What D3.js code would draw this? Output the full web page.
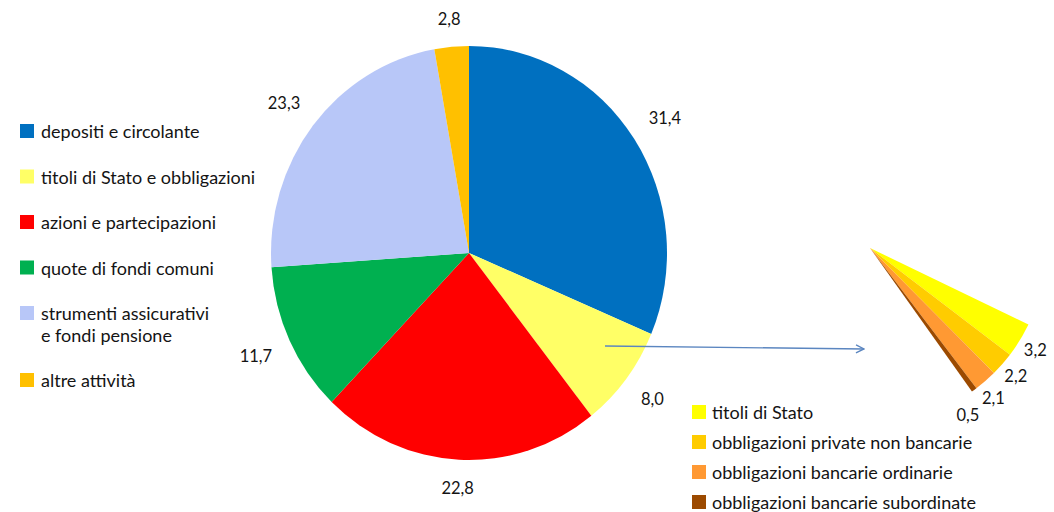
<!DOCTYPE html>
<html lang="it">
<head>
  <meta charset="UTF-8">
  <title>Composizione delle attività finanziarie</title>
  <script src="https://d3js.org/d3.v7.min.js"></script>
  <style>
    body { margin: 0; background: #fff; }
    svg text { font-family: Lato, "Open Sans", sans-serif; fill: #141414; }
  </style>
</head>
<body>
  <svg id="chart" width="1054" height="512"></svg>

  <script>
    // main pie
    const categories = ["depositi e circolante", "titoli di Stato e obbligazioni", "azioni e partecipazioni",
                        "quote di fondi comuni", "strumenti assicurativi\ne fondi pensione", "altre attività"];
    const values = [31.4, 8.0, 22.8, 11.7, 23.3, 2.8];
    const colors = ["#0070C0", "#FFFF66", "#FF0000", "#00B050", "#B8C7F8", "#FFC000"];

    // breakdown of "titoli di Stato e obbligazioni"
    const subCategories = ["titoli di Stato", "obbligazioni private non bancarie",
                           "obbligazioni bancarie ordinarie", "obbligazioni bancarie subordinate"];
    const subValues = [3.2, 2.2, 2.1, 0.5];
    const subColors = ["#FFFF00", "#FFCC00", "#FF9933", "#9C4A00"];

    const fmt = d3.formatLocale({ decimal: ",", thousands: ".", grouping: [3], currency: ["", "€"] }).format(".1f");
    const svg = d3.select("#chart");
    const deg = Math.PI / 180;
    const numSize = 16.5, legSize = 18;

    // ---- main pie (slightly taller than wide, as in the original) ----
    const cx = 469, cy = 253, rx = 198, ry = 207;
    const pie = d3.pie().sort(null).value(d => d);
    const arcs = pie(values);
    const arc = d3.arc().innerRadius(0).outerRadius(ry);

    svg.append("g")
      .attr("transform", `translate(${cx},${cy}) scale(${rx / ry},1)`)
      .selectAll("path")
      .data(arcs)
      .join("path")
      .attr("d", arc)
      .attr("fill", (d, i) => colors[i]);

    // value labels: box kept a fixed gap outside the pie edge
    const gap = 19, labelH = 16;
    const mid = d => (d.startAngle + d.endAngle) / 2;
    svg.append("g").selectAll("text")
      .data(arcs)
      .join("text")
      .attr("text-anchor", "middle")
      .attr("dominant-baseline", "central")
      .attr("font-size", numSize)
      .text(d => fmt(d.data))
      .each(function(d) {
        const a = mid(d), s = Math.sin(a), c = Math.cos(a);
        const w = this.getComputedTextLength();
        const dist = gap + Math.abs(s) * w / 2 + Math.abs(c) * labelH / 2;
        d3.select(this)
          .attr("x", cx + rx * s + dist * s)
          .attr("y", cy - ry * c - dist * c);
      });

    // ---- legend left ----
    // rows are evenly spaced, a wrapped label pushes the following rows down by one line
    const lineH = 21.5, rowH = 45.5;
    let extra = 0;
    const legPos = categories.map((c, i) => {
      const y = 131 + i * rowH + extra * lineH;
      extra += c.split("\n").length - 1;
      return y;
    });
    const leg = svg.append("g").selectAll("g")
      .data(categories)
      .join("g")
      .attr("transform", (d, i) => `translate(20,${legPos[i]})`);
    leg.append("rect")
      .attr("x", 0).attr("y", -7).attr("width", 14).attr("height", 14)
      .attr("fill", (d, i) => colors[i]);
    leg.append("text")
      .attr("font-size", legSize)
      .selectAll("tspan")
      .data(d => d.split("\n"))
      .join("tspan")
      .attr("x", 21)
      .attr("y", (d, i) => i * lineH)
      .attr("dominant-baseline", "central")
      .text(d => d);

    // ---- arrow ----
    svg.append("defs").append("marker")
      .attr("id", "head").attr("viewBox", "0 0 10 10")
      .attr("refX", 9).attr("refY", 5)
      .attr("markerWidth", 10).attr("markerHeight", 10)
      .attr("markerUnits", "userSpaceOnUse")
      .attr("orient", "auto")
      .append("path").attr("d", "M1,1 L9,5 L1,9")
      .attr("fill", "none").attr("stroke", "#5B86C0").attr("stroke-width", 1.4);
    svg.append("line")
      .attr("x1", 605).attr("y1", 346).attr("x2", 864).attr("y2", 349)
      .attr("stroke", "#5B86C0").attr("stroke-width", 1.4)
      .attr("marker-end", "url(#head)");

    // ---- breakdown fragment ----
    const sx = 870, sy = 248, sr = 176;
    const subStart = 115.8 * deg;
    const subPie = d3.pie().sort(null).value(d => d)
      .startAngle(subStart)
      .endAngle(subStart + 2 * Math.PI * d3.sum(subValues) / 100);
    const subArcs = subPie(subValues);
    const subArc = d3.arc().innerRadius(0).outerRadius(sr);

    svg.append("g")
      .attr("transform", `translate(${sx},${sy})`)
      .selectAll("path")
      .data(subArcs)
      .join("path")
      .attr("d", subArc)
      .attr("fill", (d, i) => subColors[i]);

    // labels at mid angle, nudged further round the arc if they would collide
    const lr = 194, minGap = 31;
    const subPos = [];
    subArcs.forEach((d, i) => {
      let a = mid(d);
      let p = [lr * Math.sin(a), -lr * Math.cos(a)];
      while (i > 0 && Math.hypot(p[0] - subPos[i - 1][0], p[1] - subPos[i - 1][1]) < minGap) {
        a += 0.5 * deg;
        p = [lr * Math.sin(a), -lr * Math.cos(a)];
      }
      subPos.push(p);
    });
    svg.append("g")
      .attr("transform", `translate(${sx},${sy})`)
      .selectAll("text")
      .data(subArcs)
      .join("text")
      .attr("x", (d, i) => subPos[i][0])
      .attr("y", (d, i) => subPos[i][1])
      .attr("text-anchor", "middle")
      .attr("dominant-baseline", "central")
      .attr("font-size", numSize)
      .text(d => fmt(d.data));

    // ---- legend bottom right ----
    const subY = d3.scalePoint().domain(d3.range(subCategories.length)).range([412, 502]);
    const subLeg = svg.append("g").selectAll("g")
      .data(subCategories)
      .join("g")
      .attr("transform", (d, i) => `translate(692,${subY(i)})`);
    subLeg.append("rect")
      .attr("x", 0).attr("y", -7).attr("width", 14).attr("height", 14)
      .attr("fill", (d, i) => subColors[i]);
    subLeg.append("text")
      .attr("x", 20)
      .attr("dominant-baseline", "central")
      .attr("font-size", legSize)
      .text(d => d);
  </script>
</body>
</html>
